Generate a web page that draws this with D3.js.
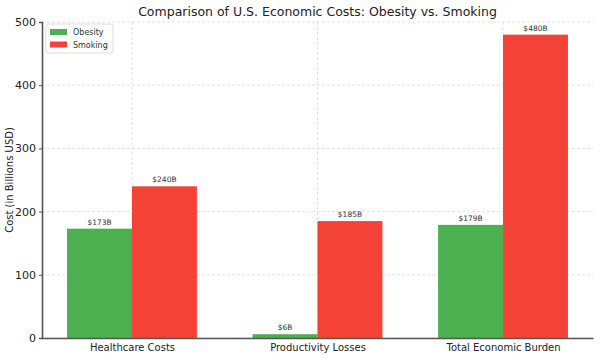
<!DOCTYPE html>
<html><head><meta charset="utf-8">
<script src="https://cdn.jsdelivr.net/npm/d3@7"></script>
<style>body{margin:0;background:#fff;}svg{display:block;font-family:"DejaVu Sans",sans-serif;}</style>
</head><body>
<svg id="c" width="600" height="358"></svg>
<script>
const categories = ["Healthcare Costs", "Productivity Losses", "Total Economic Burden"];
const seriesNames = ["Obesity", "Smoking"];
const obesity = [173, 6, 179];
const smoking = [240, 185, 480];
const yTicks = [0, 100, 200, 300, 400, 500];
const colors = ["#4caf50", "#f44336"];
const series = [obesity, smoking];

const svg = d3.select("#c");
const L = 42, R = 593, T = 22, B = 338;
const x = d3.scaleLinear().domain([-0.485, 2.485]).range([L, R]);
const y = d3.scaleLinear().domain([0, 500]).range([B, T]);
const bw = 0.35;

// grid
svg.append("g").selectAll("line.h").data(yTicks).join("line")
  .attr("x1", L).attr("x2", R).attr("y1", d => y(d)).attr("y2", d => y(d))
  .attr("stroke", "#dcdcdc").attr("stroke-width", 0.8).attr("stroke-dasharray", "3,2");
svg.append("g").selectAll("line.v").data(categories).join("line")
  .attr("x1", (d, i) => x(i)).attr("x2", (d, i) => x(i)).attr("y1", T).attr("y2", B)
  .attr("stroke", "#dcdcdc").attr("stroke-width", 0.8).attr("stroke-dasharray", "3,2");

// bars
series.forEach((vals, s) => {
  const off = s === 0 ? -bw : 0;
  svg.append("g").selectAll("rect").data(vals).join("rect")
    .attr("x", (d, i) => x(i + off)).attr("width", x(bw) - x(0))
    .attr("y", d => y(d)).attr("height", d => y(0) - y(d))
    .attr("fill", colors[s]);
  svg.append("g").selectAll("text").data(vals).join("text")
    .attr("x", (d, i) => x(i + off + bw / 2)).attr("y", d => y(d) - 4)
    .attr("text-anchor", "middle").attr("font-size", 7.5).attr("fill", "#333")
    .text(d => "$" + d + "B");
});

// axes
const yAxis = d3.axisLeft(y).tickValues(yTicks).tickSize(3).tickPadding(3);
const gy = svg.append("g").attr("transform", `translate(${L},0)`).call(yAxis);
gy.select(".domain").attr("stroke", "#555").attr("stroke-width", 1.6);
gy.selectAll(".tick line").attr("stroke", "#555");
gy.selectAll("text").attr("font-size", 11).attr("fill", "#222").attr("font-family", "DejaVu Sans");

const xAxis = d3.axisBottom(x).tickValues([0, 1, 2]).tickFormat(i => categories[i]).tickSize(0).tickPadding(6);
const gx = svg.append("g").attr("transform", `translate(0,${B})`).call(xAxis);
gx.select(".domain").attr("stroke", "#555").attr("stroke-width", 1.6);
gx.selectAll("text").attr("font-size", 10).attr("fill", "#222").attr("font-family", "DejaVu Sans");

// title & labels
svg.append("text").attr("x", (L + R) / 2).attr("y", 16).attr("text-anchor", "middle")
  .attr("font-size", 12.5).attr("fill", "#222").text("Comparison of U.S. Economic Costs: Obesity vs. Smoking");
svg.append("text").attr("transform", `translate(13,${(T + B) / 2}) rotate(-90)`)
  .attr("text-anchor", "middle").attr("font-size", 10).attr("fill", "#222").text("Cost (in Billions USD)");

// legend
const lg = svg.append("g").attr("transform", "translate(46,24)");
lg.append("rect").attr("width", 67).attr("height", 29).attr("fill", "#fff")
  .attr("stroke", "#ddd").attr("rx", 2);
seriesNames.forEach((n, i) => {
  lg.append("rect").attr("x", 4).attr("y", 5 + i * 12.5).attr("width", 17).attr("height", 6).attr("fill", colors[i]);
  lg.append("text").attr("x", 27).attr("y", 11 + i * 12.5).attr("font-size", 8).attr("fill", "#333").text(n);
});
</script>
</body></html>
